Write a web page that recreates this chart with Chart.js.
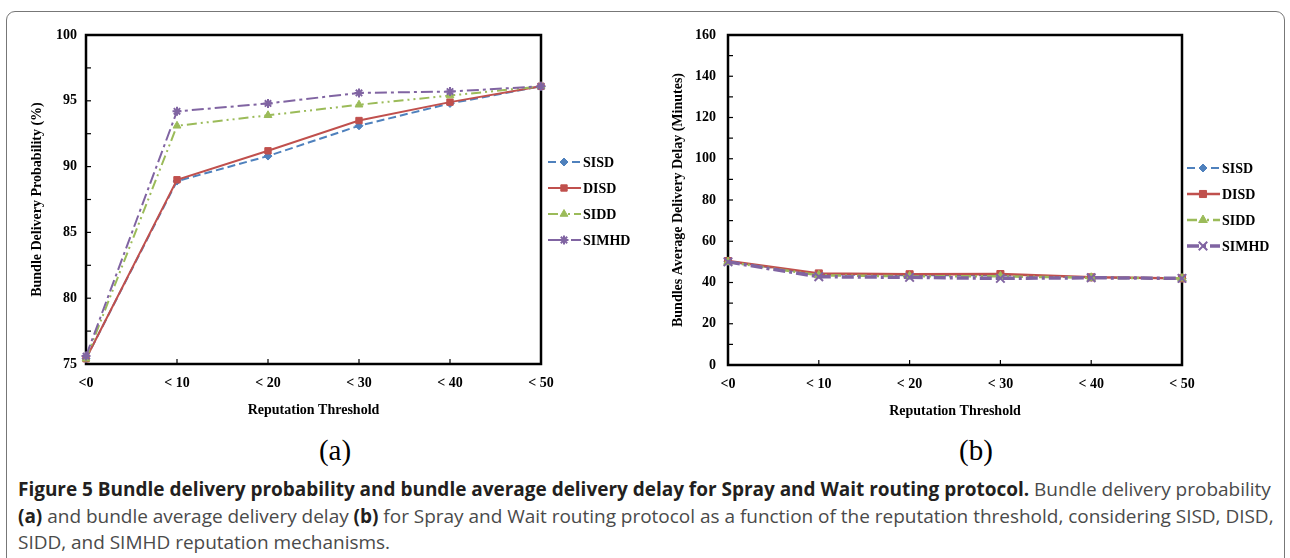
<!DOCTYPE html>
<html>
<head>
<meta charset="utf-8">
<script src="https://cdn.jsdelivr.net/npm/chart.js@4.4.0/dist/chart.umd.min.js"></script>
<style>
  body { margin: 0; background: #fff; width: 1290px; height: 558px; overflow: hidden; position: relative; }
  #frame { position: absolute; left: 6px; top: 11px; width: 1277px; height: 600px; border: 1px solid #777; border-radius: 9px; }
  #chartA { position: absolute; left: 0; top: 0; }
  #chartB { position: absolute; left: 645px; top: 0; }
  .sub { position: absolute; top: 434px; font-family: 'Liberation Serif', serif; font-size: 29px; line-height: 32px; transform: translateX(-50%); color: #000; }
  #caption { position: absolute; left: 18px; top: 476px; font-family: 'Open Sans', sans-serif; font-size: 19px; line-height: 26.5px; color: #4a4a4a; white-space: nowrap; letter-spacing: -0.02px; }
  #caption b { color: #231f20; }
</style>
</head>
<body>
<div id="frame"></div>
<canvas id="chartA" width="650" height="430"></canvas>
<canvas id="chartB" width="645" height="430"></canvas>
<div class="sub" style="left:335px">(a)</div>
<div class="sub" style="left:976px">(b)</div>
<div id="caption"><b>Figure 5 Bundle delivery probability and bundle average delivery delay for Spray and Wait routing protocol.</b> Bundle delivery probability<br><b>(a)</b> and bundle average delivery delay <b>(b)</b> for Spray and Wait routing protocol as a function of the reputation threshold, considering SISD, DISD,<br>SIDD, and SIMHD reputation mechanisms.</div>
<script>
const thresholds = ['<0', '< 10', '< 20', '< 30', '< 40', '< 50'];
const seriesNames = ['SISD', 'DISD', 'SIDD', 'SIMHD'];

const probSISD = [75.4, 88.9, 90.8, 93.1, 94.8, 96.1];
const probDISD = [75.4, 89.0, 91.2, 93.5, 94.9, 96.1];
const probSIDD = [75.4, 93.1, 93.9, 94.7, 95.4, 96.1];
const probSIMHD = [75.6, 94.2, 94.8, 95.6, 95.7, 96.1];

const delaySISD = [50.2, 44.0, 43.5, 43.5, 42.5, 42.0];
const delayDISD = [50.4, 44.4, 44.0, 44.1, 42.5, 42.0];
const delaySIDD = [50.0, 43.5, 43.0, 43.0, 42.3, 42.0];
const delaySIMHD = [50.0, 42.8, 42.5, 42.0, 42.3, 42.0];

const seriesColors = ['#4f81bd', '#c0504d', '#9bbb59', '#8064a2'];
const seriesDash = [[8, 4], [], [10, 4, 2, 4, 2, 4], [12, 4, 3, 4]];

const serif = "'Liberation Serif', 'Times New Roman', serif";

function makeDatasets(values, markers, widths, radii) {
    return values.map((data, i) => ({
        label: seriesNames[i],
        data: data,
        borderColor: seriesColors[i],
        backgroundColor: seriesColors[i],
        borderWidth: widths[i],
        borderDash: seriesDash[i],
        pointStyle: markers[i],
        pointRadius: radii[i],
        pointBackgroundColor: seriesColors[i],
        pointBorderColor: seriesColors[i],
        pointBorderWidth: markers[i] === 'star' || markers[i] === 'crossRot' ? 2 : 1,
        order: 4 - i,
        clip: false,
        tension: 0
    }));
}

const frameTicks = {
    id: 'frameTicks',
    beforeDatasetsDraw(chart, args, opts) {
        const { ctx, chartArea: a, scales: { x, y } } = chart;
        ctx.save();
        ctx.strokeStyle = '#000';
        ctx.lineWidth = 1.2;
        for (let v = y.min + opts.minor; v < y.max - 1e-6; v += opts.minor) {
            const py = y.getPixelForValue(v);
            ctx.beginPath();
            ctx.moveTo(a.left, py);
            ctx.lineTo(a.left + 5, py);
            ctx.stroke();
        }
        for (let i = 1; i < thresholds.length - 1; i++) {
            const px = x.getPixelForValue(i);
            ctx.beginPath();
            ctx.moveTo(px, a.bottom);
            ctx.lineTo(px, a.bottom - 5);
            ctx.stroke();
        }
        ctx.lineWidth = 2.5;
        ctx.strokeRect(a.left, a.top, a.width, a.height);
        ctx.restore();
    },
    afterDraw(chart, args, opts) {
        const ctx = chart.ctx;
        ctx.save();
        chart.data.datasets.forEach((ds, i) => {
            const ly = opts.legendY + i * 26;
            const lx = opts.legendX;
            ctx.strokeStyle = ds.borderColor;
            ctx.lineWidth = ds.borderWidth;
            ctx.setLineDash(ds.borderDash);
            ctx.beginPath();
            ctx.moveTo(lx, ly);
            ctx.lineTo(lx + 33, ly);
            ctx.stroke();
            ctx.setLineDash([]);
            ctx.fillStyle = ds.pointBackgroundColor;
            ctx.strokeStyle = ds.pointBorderColor;
            ctx.lineWidth = ds.pointBorderWidth;
            Chart.helpers.drawPoint(ctx, {
                pointStyle: ds.pointStyle,
                radius: ds.pointRadius,
                borderWidth: ds.pointBorderWidth,
                rotation: 0
            }, lx + 16, ly);
            ctx.fillStyle = '#000';
            ctx.font = 'bold 14px ' + serif;
            ctx.textBaseline = 'middle';
            ctx.fillText(ds.label, lx + 35, ly + 1);
        });
        ctx.restore();
    }
};

function makeChart(id, datasets, yOpts, layout) {
    const tickFont = { family: serif, size: 14, weight: 'bold' };
    return new Chart(document.getElementById(id), {
        type: 'line',
        data: { labels: thresholds, datasets: datasets },
        options: {
            responsive: false,
            animation: false,
            layout: { padding: layout.padding },
            plugins: {
                legend: { display: false },
                tooltip: { enabled: false },
                frameTicks: { minor: yOpts.minor, legendX: layout.legendX, legendY: layout.legendY }
            },
            scales: {
                x: {
                    offset: false,
                    grid: { display: false, drawTicks: false },
                    border: { display: false },
                    ticks: { color: '#000', font: tickFont, padding: 11, maxRotation: 0 },
                    title: { display: true, text: 'Reputation Threshold', color: '#000', font: tickFont, padding: { top: 0, bottom: 5 } },
                    afterFit: s => { s.height = 60; }
                },
                y: {
                    min: yOpts.min,
                    max: yOpts.max,
                    grid: { display: false, drawTicks: false },
                    border: { display: false },
                    ticks: { stepSize: yOpts.step, color: '#000', font: tickFont, padding: layout.tickPad },
                    title: { display: true, text: yOpts.title, color: '#000', font: tickFont, padding: { top: layout.titlePad, bottom: 0 } },
                    afterFit: s => { s.width = layout.yWidth; }
                }
            }
        },
        plugins: [frameTicks]
    });
}

makeChart('chartA',
    makeDatasets([probSISD, probDISD, probSIDD, probSIMHD],
        ['rectRot', 'rect', 'triangle', 'star'], [2, 2, 2, 2], [4, 4.5, 4.5, 4.5]),
    { min: 75, max: 100, step: 5, minor: 2.5, title: 'Bundle Delivery Probability (%)' },
    { padding: { left: 0, top: 35, right: 109, bottom: 6 }, yWidth: 86, tickPad: 9, titlePad: 29, legendX: 548, legendY: 162 });

makeChart('chartB',
    makeDatasets([delaySISD, delayDISD, delaySIDD, delaySIMHD],
        ['rectRot', 'rect', 'triangle', 'crossRot'], [2, 2.5, 2.5, 3.5], [4, 5, 5, 6]),
    { min: 0, max: 160, step: 20, minor: 10, title: 'Bundles Average Delivery Delay (Minutes)' },
    { padding: { left: 0, top: 35, right: 108, bottom: 5 }, yWidth: 83, tickPad: 12, titlePad: 25, legendX: 542, legendY: 168 });
</script>
</body>
</html>
